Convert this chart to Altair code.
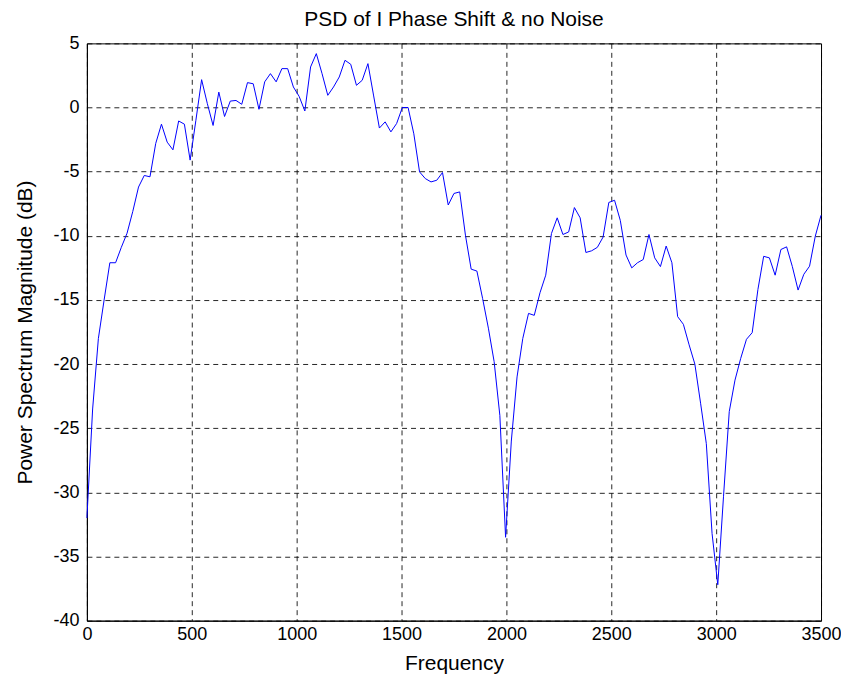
import altair as alt
import pandas as pd

# PSD magnitude (dB), one value per frequency bin
psd_db = [
    -32.0, -23.5, -18.0, -15.0, -12.1, -12.1, -10.9, -9.8, -8.1, -6.2,
    -5.3, -5.4, -2.8, -1.3, -2.7, -3.3, -1.05, -1.3, -4.1, -1.0,
    2.17, 0.3, -1.4, 1.2, -0.7, 0.5, 0.55, 0.25, 1.94, 1.85,
    -0.14, 2.0, 2.64, 2.0, 3.03, 3.03, 1.6, 0.87, -0.27, 3.16,
    4.2, 2.64, 0.95, 1.6, 2.38, 3.68, 3.37, 1.73, 2.12, 3.42,
    0.9, -1.6, -1.12, -1.9, -1.25, 0.0, 0.0, -2.05, -5.02, -5.54,
    -5.8, -5.67, -5.07, -7.6, -6.7, -6.58, -9.95, -12.6, -12.75, -14.9,
    -17.2, -19.8, -24.0, -33.5, -26.0, -21.0, -18.0, -16.05, -16.2, -14.44,
    -13.07, -9.82, -8.6, -9.9, -9.7, -7.8, -8.6, -11.3, -11.17, -10.9,
    -10.1, -7.4, -7.23, -8.8, -11.5, -12.5, -12.1, -11.85, -9.9, -11.72,
    -12.4, -10.8, -12.1, -16.3, -16.9, -18.5, -20.0, -23.05, -26.2, -33.2,
    -37.2, -30.3, -23.7, -21.25, -19.55, -18.07, -17.55, -14.18, -11.6, -11.72,
    -13.07, -11.07, -10.86, -12.4, -14.23, -13.0, -12.37, -10.03, -8.4,
]

# frequency bins: 0 .. 3500 Hz, 128 equal steps
freq_max = 3500
freq = [i * freq_max / (len(psd_db) - 1) for i in range(len(psd_db))]

x_ticks = [0, 500, 1000, 1500, 2000, 2500, 3000, 3500]
y_ticks = [-40, -35, -30, -25, -20, -15, -10, -5, 0, 5]

title_text = "PSD of I Phase Shift & no Noise"
x_title = "Frequency"
y_title = "Power Spectrum Magnitude (dB)"

df = pd.DataFrame({"Frequency": freq, "PSD": psd_db})

FONT = "Liberation Sans"
LABEL_FS = 18
TITLE_FS = 21

chart = (
    alt.Chart(df)
    .mark_line(color="#0000ff", strokeWidth=1)
    .encode(
        x=alt.X(
            "Frequency:Q",
            scale=alt.Scale(domain=[0, 3500], nice=False, zero=False),
            axis=alt.Axis(values=x_ticks, title=x_title, labelExpr="'' + datum.value",
                          labelFlush=False, labelPadding=5, titlePadding=9),
        ),
        y=alt.Y(
            "PSD:Q",
            scale=alt.Scale(domain=[-40, 5], nice=False, zero=False),
            axis=alt.Axis(values=y_ticks, title=y_title, labelExpr="'' + datum.value",
                          labelFlush=False, labelPadding=8, titlePadding=17),
        ),
    )
    .properties(
        width=735,
        height=578,
        title=alt.TitleParams(title_text, fontSize=TITLE_FS, fontWeight="normal", font=FONT,
                              anchor="middle", offset=4, color="black"),
        autosize=alt.AutoSizeParams(type="none"),
        padding={"left": 79, "top": 35, "right": 20, "bottom": 58},
    )
    .configure_view(stroke="black", strokeWidth=1)
    .configure_axis(
        grid=True,
        gridColor="black",
        gridDash=[5, 4],
        gridOpacity=0.85,
        gridWidth=1,
        domainColor="black",
        domainWidth=1,
        ticks=False,
        labelFont=FONT,
        labelFontSize=LABEL_FS,
        labelColor="black",
        titleFont=FONT,
        titleFontSize=TITLE_FS,
        titleFontWeight="normal",
        titleColor="black",
    )
)

chart.save("out.html", embed_options={"renderer": "svg", "actions": False})
